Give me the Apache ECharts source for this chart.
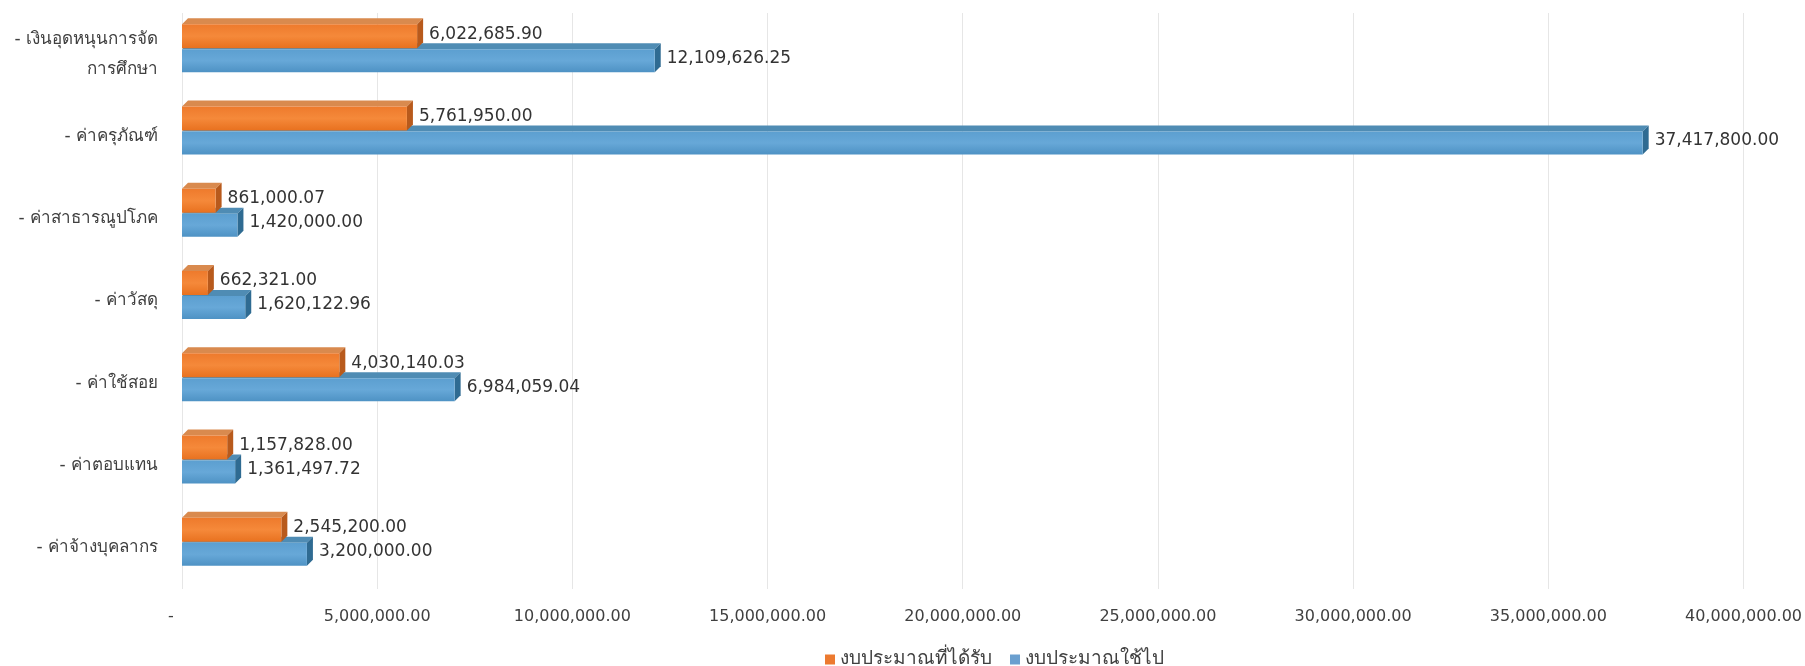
<!DOCTYPE html>
<html>
<head>
<meta charset="utf-8">
<script src="https://cdn.jsdelivr.net/npm/echarts@6/dist/echarts.min.js"></script>
<style>
  html, body { margin: 0; padding: 0; background: #fff; }
  #chart { width: 1805px; height: 666px; }
</style>
</head>
<body>
<div id="chart"></div>
<script>
// categories top to bottom
const categories = [
  '- เงินอุดหนุนการจัด\nการศึกษา',
  '- ค่าครุภัณฑ์',
  '- ค่าสาธารณูปโภค',
  '- ค่าวัสดุ',
  '- ค่าใช้สอย',
  '- ค่าตอบแทน',
  '- ค่าจ้างบุคลากร'
]
const received = [6022685.90, 5761950.00, 861000.07, 662321.00, 4030140.03, 1157828.00, 2545200.00]
const spent = [12109626.25, 37417800.00, 1420000.00, 1620122.96, 6984059.04, 1361497.72, 3200000.00]
const seriesNames = ['งบประมาณที่ได้รับ', 'งบประมาณใช้ไป']

const thaiFont = 'Tahoma, "DejaVu Sans", "Noto Sans", sans-serif'
const numFont = '"DejaVu Sans", sans-serif'

function fmt (v) {
  return v.toLocaleString('en-US', { minimumFractionDigits: 2, maximumFractionDigits: 2 })
}

// fake 3d bar: front face, top face, right side + value label
function bar3d (colors, yFront, hFront, labelDy) {
  return function (params, api) {
    const idx = api.value(1)
    const val = api.value(0)
    const p0 = api.coord([0, idx])
    const p1 = api.coord([val, idx])
    const c = p0[1]
    const x0 = p0[0]
    const x1 = p1[0]
    const y0 = c + yFront
    const y1 = y0 + hFront
    const d = 6
    return {
      type: 'group',
      children: [
        {
          type: 'polygon',
          shape: { points: [[x0, y0], [x1, y0], [x1 + d, y0 - d], [x0 + d, y0 - d]] },
          style: { fill: colors.top }
        },
        {
          type: 'polygon',
          shape: { points: [[x1, y0], [x1 + d, y0 - d], [x1 + d, y1 - d], [x1, y1]] },
          style: { fill: colors.side }
        },
        {
          type: 'rect',
          shape: { x: x0, y: y0, width: x1 - x0, height: hFront },
          style: {
            fill: new echarts.graphic.LinearGradient(0, 0, 0, 1, [
              { offset: 0, color: colors.front[0] },
              { offset: 0.5, color: colors.front[1] },
              { offset: 1, color: colors.front[2] }
            ])
          }
        },
        {
          type: 'text',
          style: {
            x: x1 + d + 6,
            y: c + labelDy,
            text: fmt(val),
            fill: '#333',
            font: '17px ' + numFont,
            verticalAlign: 'middle',
            align: 'left'
          }
        }
      ]
    }
  }
}

const orange = { top: '#d98a4e', side: '#b85a1c', front: ['#ee7a2c', '#f5893a', '#e8711f'] }
const blue = { top: '#4f8cb4', side: '#2f6b92', front: ['#5c9fd0', '#67a8d8', '#4e92c4'] }

const chart = echarts.init(document.getElementById('chart'))
const option = {
  animation: false,
  grid: { left: 182, right: 45, top: 13, bottom: 77 },
  legend: {
    top: 645,
    left: 820,
    itemWidth: 10,
    itemHeight: 10,
    itemGap: 18,
    icon: 'rect',
    textStyle: { fontSize: 19, color: '#404040', fontFamily: thaiFont },
    data: seriesNames
  },
  xAxis: {
    type: 'value',
    min: 0,
    max: 40000000,
    interval: 5000000,
    axisLine: { show: false },
    axisTick: { show: false },
    splitLine: { lineStyle: { color: '#e6e6e6' } },
    axisLabel: {
      margin: 20,
      color: '#404040',
      fontSize: 16,
      fontFamily: numFont,
      formatter: v => v === 0 ? '{z|-}' : fmt(v),
      rich: {
        z: { padding: [0, 22, 0, 0], fontSize: 16, color: '#404040' }
      }
    }
  },
  yAxis: {
    type: 'category',
    inverse: true,
    data: categories,
    axisLine: { show: false },
    axisTick: { show: false },
    axisLabel: {
      margin: 24,
      color: '#404040',
      fontSize: 17,
      lineHeight: 30,
      fontFamily: thaiFont
    }
  },
  series: [
    {
      name: seriesNames[1],
      type: 'custom',
      itemStyle: { color: '#6a9fcf' },
      encode: { x: 0, y: 1 },
      data: spent.map((v, i) => [v, i]),
      renderItem: bar3d(blue, -5, 23, 4),
      z: 2
    },
    {
      name: seriesNames[0],
      type: 'custom',
      itemStyle: { color: '#ec7a30' },
      encode: { x: 0, y: 1 },
      data: received.map((v, i) => [v, i]),
      renderItem: bar3d(orange, -30, 24, -20),
      z: 3
    }
  ]
}
chart.setOption(option)
window.addEventListener('resize', function () {
  chart.resize()
})
</script>
</body>
</html>
